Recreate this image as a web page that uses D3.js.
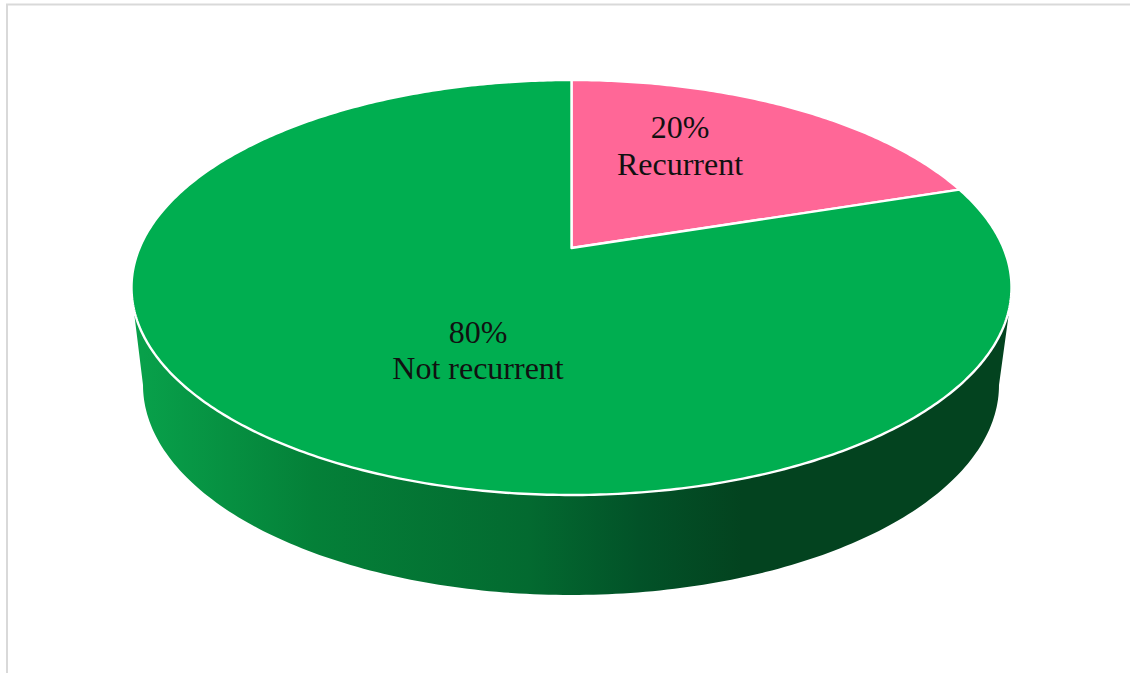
<!DOCTYPE html>
<html>
<head>
<meta charset="utf-8">
<script src="https://cdn.jsdelivr.net/npm/d3@7"></script>
<style>
html,body{margin:0;padding:0;background:#fff;overflow:hidden}
svg{display:block}
text{font-family:"Liberation Serif","Times New Roman",serif;fill:#111}
</style>
</head>
<body>
<svg id="c" width="1130" height="673"></svg>
<script>
const categories = ["Recurrent", "Not recurrent"];
const values = [20, 80];
const sliceColors = ["#ff6797", "#00ae50"];
const wallStops = [[0,"#08a04a"],[0.2,"#048038"],[0.45,"#036a30"],[0.58,"#025228"],[0.7,"#03431f"],[1,"#03431f"]];

const W = 1130, H = 673;
const top_ = {cx:571.5, cy:287.5, rx:440, ry:207.5};
const bottom_ = {cx:571, cy:385, rx:428, ry:210};
const wallTopY = 316, wallTopHalf = 437;
const apexY = 248;
const c = (top_.cy - apexY) / top_.ry;
const w = Math.sqrt(1 - c*c);

// Perspective projection of a unit-circle point onto the top ellipse
function project(angle, r){
  const u = r*Math.sin(angle), v = r*Math.cos(angle);
  const d = 1 + c*v;
  return [top_.cx + top_.rx*u*w/d, top_.cy + top_.ry*(-v - c)/d];
}
const svg = d3.select("#c");
const defs = svg.append("defs");
const grad = defs.append("linearGradient").attr("id","wall")
  .attr("gradientUnits","userSpaceOnUse")
  .attr("x1",bottom_.cx-bottom_.rx).attr("x2",bottom_.cx+bottom_.rx).attr("y1",0).attr("y2",0);
grad.selectAll("stop").data(wallStops).join("stop")
  .attr("offset",d=>d[0]).attr("stop-color",d=>d[1]);

// frame
svg.append("path").attr("d",`M7 ${H}V4.5H${W}`).attr("fill","none").attr("stroke","#d9d9d9").attr("stroke-width",2);

const line = d3.line();

// wall
const wallPts = d3.range(0,181).map(i=>{
  const t = i/180*Math.PI;
  return [bottom_.cx + bottom_.rx*Math.cos(t), bottom_.cy + bottom_.ry*Math.sin(t)];
});
svg.append("path")
  .attr("d", line([[top_.cx+wallTopHalf,wallTopY], ...wallPts, [top_.cx-wallTopHalf,wallTopY], [top_.cx,top_.cy]])+"Z")
  .attr("fill","url(#wall)");

// slices
const pie = d3.pie().sort(null).value(d=>d);
const arcs = pie(values);
svg.append("g").selectAll("path.slice").data(arcs).join("path").attr("class","slice")
  .attr("d",d=>{
    const n = Math.ceil((d.endAngle-d.startAngle)*90);
    const pts = [project(0,0)];
    d3.range(n+1).forEach(i=>pts.push(project(d.startAngle+(d.endAngle-d.startAngle)*i/n,1)));
    return line(pts)+"Z";
  })
  .attr("fill",(d,i)=>sliceColors[i])
  .attr("stroke","#fff").attr("stroke-width",2.4).attr("stroke-linejoin","round");

// labels
const labelPos = [[680,138,175],[478,343,379]];
const labels = svg.append("g").attr("text-anchor","middle").attr("font-size",32);
arcs.forEach((d,i)=>{
  labels.append("text").attr("x",labelPos[i][0]).attr("y",labelPos[i][1]).text(values[i]+"%");
  labels.append("text").attr("x",labelPos[i][0]).attr("y",labelPos[i][2]).text(categories[i]);
});
</script>
</body>
</html>
